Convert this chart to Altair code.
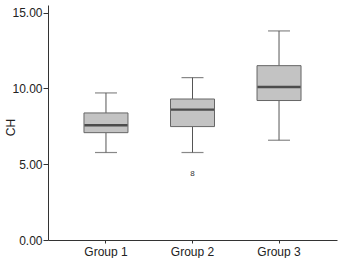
import altair as alt
import pandas as pd

# Five-number summaries per group
groups = ["Group 1", "Group 2", "Group 3"]
lower = [5.77, 5.77, 6.58]
q1 = [7.08, 7.48, 9.20]
median = [7.57, 8.60, 10.09]
q3 = [8.38, 9.30, 11.50]
upper = [9.70, 10.71, 13.79]

# Outlying cases (group, value, case label)
out_group = ["Group 2"]
out_value = [4.38]
out_label = ["8"]

df = pd.DataFrame({
    "group": groups, "lower": lower, "q1": q1,
    "median": median, "q3": q3, "upper": upper,
})
odf = pd.DataFrame({"group": out_group, "value": out_value, "label": out_label})

FONT = "Liberation Sans"

x_enc = alt.X(
    "group:N", sort=groups, title=None,
    scale=alt.Scale(paddingInner=0, paddingOuter=0.17),
    axis=alt.Axis(labelAngle=0, labelFontSize=12, labelFont=FONT, labelColor="#222",
                  tickSize=3, tickColor="#333", domainColor="#333", labelPadding=3),
)
y_scale = alt.Scale(domain=[0, 15.5], nice=False)
y_axis = alt.Axis(values=[0, 5, 10, 15], format=".2f", grid=False, tickSize=5,
                  labelFontSize=12, labelFont=FONT, labelColor="#222", labelPadding=1,
                  tickColor="#333", domainColor="#333", titleFont=FONT,
                  titleFontSize=12, titleFontWeight="normal", titleColor="#222",
                  titleX=-38, titleY=122, titleBaseline="middle", titleAngle=270)

base = alt.Chart(df)

whisker_lo = base.mark_rule(color="#555", strokeWidth=1).encode(
    x=x_enc, y=alt.Y("lower:Q", scale=y_scale, axis=y_axis, title="CH"), y2="q1:Q")
whisker_hi = base.mark_rule(color="#555", strokeWidth=1).encode(
    x=x_enc, y=alt.Y("q3:Q", scale=y_scale), y2="upper:Q")
cap_lo = base.mark_tick(color="#555", size=22, thickness=1.2, orient="horizontal").encode(
    x=x_enc, y=alt.Y("lower:Q", scale=y_scale))
cap_hi = base.mark_tick(color="#555", size=22, thickness=1.2, orient="horizontal").encode(
    x=x_enc, y=alt.Y("upper:Q", scale=y_scale))
box = base.mark_bar(size=44, fill="#c3c3c3", stroke="#666", strokeWidth=1).encode(
    x=x_enc, y=alt.Y("q1:Q", scale=y_scale), y2="q3:Q")
med = base.mark_tick(color="#1a1a1a", size=43, thickness=2.4, orient="horizontal").encode(
    x=x_enc, y=alt.Y("median:Q", scale=y_scale))
outl = alt.Chart(odf).mark_text(font=FONT, fontSize=8, color="#333").encode(
    x=alt.X("group:N", sort=groups), y=alt.Y("value:Q", scale=y_scale), text="label:N")

chart = alt.layer(whisker_lo, whisker_hi, cap_lo, cap_hi, box, med, outl).properties(
    width=289, height=235,
    autosize=alt.AutoSizeParams(type="none"),
    padding={"left": 48, "top": 5, "right": 7, "bottom": 18},
    background="white",
).configure_view(strokeWidth=0, stroke="transparent")

chart.save("out.html", embed_options={"renderer": "svg", "actions": False})
